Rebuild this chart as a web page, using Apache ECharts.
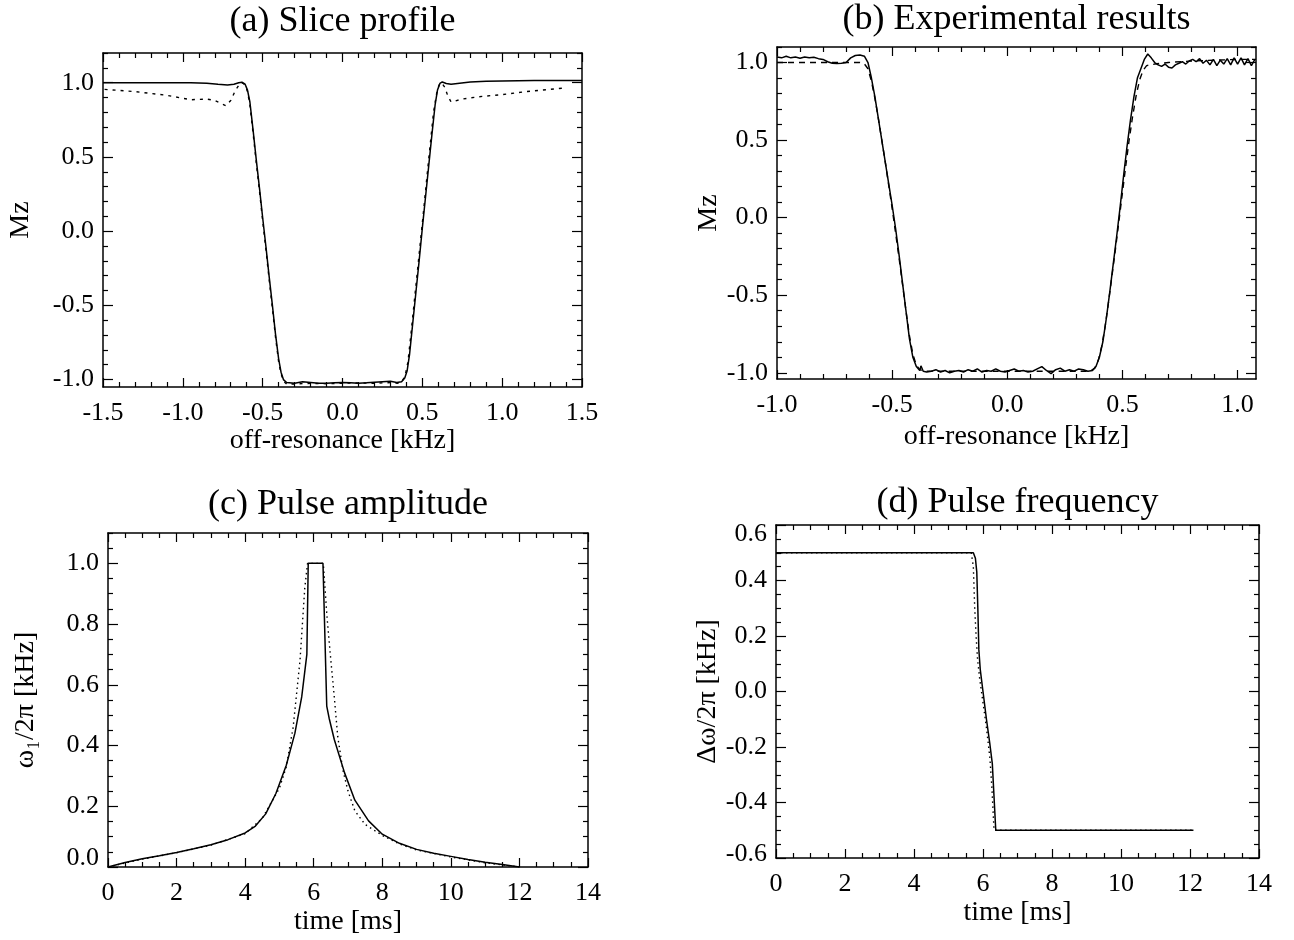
<!DOCTYPE html>
<html><head><meta charset="utf-8">
<script src="https://cdn.jsdelivr.net/npm/echarts@6/dist/echarts.min.js"></script>
<style>html,body{margin:0;padding:0;background:#fff}#c{width:1294px;height:940px}</style>
</head><body><div id="c"></div>
<script>
// ---------- (a) Slice profile ----------
const aXTicks = [-1.5, -1.0, -0.5, 0.0, 0.5, 1.0, 1.5];
const aYTicks = [-1.0, -0.5, 0.0, 0.5, 1.0];
const aSolidX = [-1.5,-1.3,-1.1,-0.95,-0.85,-0.78,-0.72,-0.68,-0.65,-0.63,-0.61,-0.595,-0.58,-0.56,-0.54,-0.52,-0.50,-0.48,-0.46,-0.44,-0.42,-0.40,-0.385,-0.37,-0.35,-0.3,-0.25,-0.2,-0.15,-0.1,-0.05,0,0.05,0.1,0.15,0.2,0.25,0.3,0.34,0.37,0.39,0.405,0.42,0.44,0.46,0.48,0.50,0.52,0.54,0.56,0.58,0.595,0.61,0.625,0.65,0.68,0.72,0.8,0.9,1.0,1.2,1.5];
const aSolidY = [1.0,1.0,1.0,1.0,0.997,0.99,0.985,0.99,1.0,1.003,0.99,0.95,0.87,0.68,0.48,0.29,0.09,-0.10,-0.30,-0.49,-0.69,-0.86,-0.95,-1.0,-1.02,-1.025,-1.015,-1.02,-1.025,-1.025,-1.022,-1.02,-1.022,-1.025,-1.022,-1.018,-1.015,-1.012,-1.02,-1.015,-0.99,-0.94,-0.83,-0.62,-0.41,-0.20,0.02,0.23,0.44,0.65,0.85,0.95,0.995,1.005,0.995,0.99,0.995,1.005,1.01,1.012,1.015,1.015];
const aDotX = [-1.49,-1.3,-1.1,-0.95,-0.85,-0.8,-0.76,-0.73,-0.7,-0.67,-0.645,-0.63,-0.61,-0.595,-0.58,-0.56,-0.54,-0.52,-0.50,-0.48,-0.46,-0.44,-0.42,-0.40,-0.385,-0.37,-0.35,-0.3,-0.2,-0.1,0,0.1,0.2,0.3,0.35,0.38,0.395,0.41,0.43,0.45,0.47,0.49,0.51,0.53,0.55,0.57,0.59,0.605,0.62,0.64,0.66,0.68,0.7,0.75,0.85,1.0,1.15,1.3,1.4];
const aDotY = [0.955,0.94,0.915,0.885,0.89,0.88,0.86,0.845,0.88,0.95,0.99,1.0,0.985,0.94,0.85,0.66,0.46,0.27,0.07,-0.12,-0.32,-0.51,-0.71,-0.88,-0.96,-1.01,-1.03,-1.03,-1.025,-1.028,-1.025,-1.022,-1.025,-1.02,-1.025,-1.0,-0.96,-0.88,-0.68,-0.47,-0.26,-0.05,0.16,0.38,0.59,0.8,0.93,0.985,1.0,0.97,0.91,0.87,0.875,0.89,0.905,0.92,0.94,0.955,0.965];

// ---------- (b) Experimental results ----------
const bXTicks = [-1.0, -0.5, 0.0, 0.5, 1.0];
const bYTicks = [-1.0, -0.5, 0.0, 0.5, 1.0];
const bSolidX = [-1.0,-0.98,-0.96,-0.94,-0.92,-0.90,-0.88,-0.86,-0.84,-0.82,-0.80,-0.78,-0.76,-0.74,-0.72,-0.70,-0.68,-0.66,-0.64,-0.62,-0.605,-0.59,-0.575,-0.56,-0.545,-0.53,-0.515,-0.50,-0.485,-0.47,-0.455,-0.44,-0.425,-0.41,-0.395,-0.38,-0.375,-0.365,-0.35,-0.33,-0.31,-0.29,-0.27,-0.25,-0.23,-0.21,-0.19,-0.17,-0.15,-0.13,-0.11,-0.09,-0.07,-0.05,-0.03,-0.01,0.01,0.03,0.05,0.07,0.09,0.11,0.13,0.15,0.17,0.19,0.21,0.23,0.25,0.27,0.29,0.31,0.33,0.35,0.37,0.385,0.40,0.415,0.43,0.445,0.46,0.475,0.49,0.505,0.52,0.535,0.55,0.565,0.58,0.595,0.61,0.625,0.64,0.655,0.67,0.685,0.70,0.715,0.73,0.745,0.76,0.775,0.79,0.805,0.82,0.835,0.85,0.865,0.88,0.895,0.91,0.925,0.94,0.955,0.97,0.985,1.0,1.015,1.03,1.045,1.06,1.075];
const bSolidY = [1.035,1.03,1.04,1.03,1.035,1.028,1.036,1.03,1.034,1.025,1.02,1.005,0.995,0.993,0.995,1.0,1.03,1.045,1.048,1.04,1.0,0.9,0.78,0.64,0.5,0.36,0.22,0.08,-0.07,-0.24,-0.42,-0.6,-0.78,-0.9,-0.96,-0.985,-0.955,-0.99,-0.995,-0.99,-0.98,-0.995,-0.985,-1.0,-0.99,-0.985,-0.995,-0.98,-0.99,-0.975,-0.995,-0.985,-0.99,-0.975,-0.99,-0.995,-0.985,-0.975,-0.99,-0.985,-0.995,-0.99,-0.975,-0.96,-0.985,-1.005,-0.98,-0.97,-0.99,-0.98,-0.99,-0.975,-0.98,-0.99,-0.985,-0.96,-0.9,-0.8,-0.65,-0.48,-0.3,-0.12,0.07,0.27,0.46,0.63,0.78,0.9,0.96,1.02,1.055,1.03,1.0,0.985,0.975,0.99,0.97,0.965,0.985,0.995,1.005,0.99,1.01,1.02,1.005,1.025,0.995,1.015,0.985,1.02,0.98,1.015,0.99,1.025,0.985,1.03,0.99,1.03,0.985,1.025,0.98,1.02];
const bDashX = [-1.0,-0.8,-0.68,-0.64,-0.62,-0.605,-0.59,-0.575,-0.56,-0.545,-0.53,-0.515,-0.5,-0.485,-0.47,-0.455,-0.44,-0.425,-0.41,-0.395,-0.38,-0.36,0.36,0.38,0.395,0.41,0.425,0.44,0.455,0.47,0.485,0.5,0.515,0.53,0.545,0.56,0.575,0.59,0.605,0.64,0.7,0.8,0.9,1.0,1.08];
const bDashY = [1.0,1.0,1.0,1.0,0.99,0.96,0.88,0.77,0.64,0.5,0.36,0.21,0.06,-0.1,-0.26,-0.43,-0.6,-0.76,-0.88,-0.95,-0.98,-0.99,-0.99,-0.97,-0.92,-0.83,-0.7,-0.54,-0.37,-0.2,-0.02,0.16,0.34,0.51,0.66,0.79,0.89,0.95,0.98,0.99,1.0,1.01,1.015,1.02,1.02];

// ---------- (c) Pulse amplitude ----------
const cXTicks = [0, 2, 4, 6, 8, 10, 12, 14];
const cYTicks = [0.0, 0.2, 0.4, 0.6, 0.8, 1.0];
const cSolidT = [0,0.5,1,1.5,2,2.5,3,3.5,4,4.3,4.6,4.9,5.2,5.45,5.65,5.8,5.84,6.27,6.38,6.45,6.6,6.9,7.2,7.6,8.0,8.5,9.0,9.5,10,10.5,11,11.5,12];
const cSolidV = [0,0.015,0.027,0.037,0.048,0.06,0.073,0.09,0.112,0.135,0.175,0.243,0.335,0.44,0.56,0.7,1.0,1.0,0.53,0.49,0.42,0.31,0.22,0.152,0.108,0.078,0.058,0.045,0.035,0.025,0.016,0.008,0.0];
const cDotT = [0,1,2,3,4,4.5,5,5.2,5.4,5.6,5.74,5.82,6.28,6.39,6.5,6.6,6.7,6.85,7.0,7.2,7.5,8.0,8.5,9,10,11,12];
const cDotV = [0,0.026,0.047,0.072,0.11,0.16,0.26,0.33,0.46,0.68,0.92,1.0,1.0,0.82,0.68,0.56,0.43,0.32,0.25,0.185,0.14,0.104,0.076,0.056,0.033,0.014,0.0];

// ---------- (d) Pulse frequency ----------
const dXTicks = [0, 2, 4, 6, 8, 10, 12, 14];
const dYTicks = [-0.6, -0.4, -0.2, 0.0, 0.2, 0.4, 0.6];
const dSolidT = [0,5.72,5.78,5.82,5.85,5.88,5.92,6.0,6.1,6.2,6.27,6.32,6.37,12.1];
const dSolidV = [0.5,0.5,0.48,0.43,0.3,0.15,0.08,0.0,-0.1,-0.19,-0.26,-0.38,-0.5,-0.5];
const dDotT = [0,5.66,5.72,5.76,5.8,5.84,5.9,6.0,6.1,6.2,6.26,6.32,12.1];
const dDotV = [0.5,0.5,0.45,0.3,0.2,0.12,0.05,-0.04,-0.13,-0.24,-0.35,-0.5,-0.5];

// ---------- layout / styling ----------
const FONT = "'Liberation Serif','Times New Roman','DejaVu Serif',serif";
const panels = [
  {title:'(a) Slice profile', titleY:22, grid:{left:103,top:53,width:479,height:334}, x:[-1.5,1.5], y:[-1.05,1.2],
   xMajor:aXTicks, yMajor:aYTicks, xStep:0.1, yStep:0.1, xDec:1, yDec:1,
   xName:'off-resonance [kHz]', yName:'Mz', xGap:40, yGap:68, yMinShift:0, yMaxShift:0,
   lines:[[aSolidX,aSolidY,'solid'],[aDotX,aDotY,[3,5]]]},
  {title:'(b) Experimental results', titleY:20, grid:{left:777,top:47,width:479,height:332}, x:[-1.0,1.08], y:[-1.04,1.1],
   xMajor:bXTicks, yMajor:bYTicks, xStep:0.1, yStep:0.1, xDec:1, yDec:1,
   xName:'off-resonance [kHz]', yName:'Mz', xGap:44, yGap:52, yMinShift:0, yMaxShift:0,
   lines:[[bSolidX,bSolidY,'solid'],[bDashX,bDashY,[6,5]]]},
  {title:'(c) Pulse amplitude', titleY:505, grid:{left:108,top:533,width:480,height:334}, x:[0,14], y:[0,1.1],
   xMajor:cXTicks, yMajor:cYTicks, xStep:0.5, yStep:0.05, xDec:0, yDec:1,
   xName:'time [ms]', yName:'ω\u2081/2π [kHz]', xGap:41, yGap:68, yMinShift:-9, yMaxShift:0,
   lines:[[cSolidT,cSolidV,'solid'],[cDotT,cDotV,[1.5,3.5]]]},
  {title:'(d) Pulse frequency', titleY:503, grid:{left:776,top:525,width:483,height:333}, x:[0,14], y:[-0.6,0.6],
   xMajor:dXTicks, yMajor:dYTicks, xStep:0.5, yStep:0.05, xDec:0, yDec:1,
   xName:'time [ms]', yName:'Δω/2π [kHz]', xGap:41, yGap:50, yMinShift:-4, yMaxShift:9,
   lines:[[dSolidT,dSolidV,'solid'],[dDotT,dDotV,[1.5,3.5]]]}
];

function minorList(min, max, step, major) {
  const out = [];
  const n0 = Math.ceil(min / step - 1e-9), n1 = Math.floor(max / step + 1e-9);
  for (let i = n0; i <= n1; i++) {
    const v = Math.round(i * step * 1e6) / 1e6;
    if (!major.some(m => Math.abs(m - v) < 1e-6)) out.push(v);
  }
  return out;
}

const LINE = {color:'#000', width:1.5};
const TICK = {color:'#000', width:1.2};
const LBL = {fontFamily:FONT, fontSize:26, color:'#000'};
function shiftStyle(s) { // s<0 moves the label up, s>0 moves it down
  return Object.assign({}, LBL, {padding: s < 0 ? [0, 0, -2 * s, 0] : [2 * s, 0, 0, 0]});
}
function makeAxes(gi, p, dim) {
  const isX = dim === 'x';
  const [mn, mx] = isX ? p.x : p.y;
  const major = isX ? p.xMajor : p.yMajor;
  const minor = minorList(mn, mx, isX ? p.xStep : p.yStep, major);
  const dec = isX ? p.xDec : p.yDec;
  const pos = isX ? ['bottom','top'] : ['left','right'];
  const majLen = isX ? 9 : 10, minLen = 5;
  const base = {gridIndex:gi, type:'value', min:mn, max:mx, splitLine:{show:false}, axisPointer:{show:false}};
  const lo = Math.min(...major), hi = Math.max(...major);
  const fmt = v => {
    const s = Number(v).toFixed(dec);
    if (!isX && Math.abs(v - lo) < 1e-9 && p.yMinShift) return '{lo|' + s + '}';
    if (!isX && Math.abs(v - hi) < 1e-9 && p.yMaxShift) return '{hi|' + s + '}';
    return s;
  };
  const axes = [];
  pos.forEach((ps, k) => {
    axes.push(Object.assign({}, base, {
      position: ps,
      axisLine:{show:true, onZero:false, lineStyle:LINE},
      axisTick:{show:true, inside:true, length:majLen, customValues:major, lineStyle:TICK},
      axisLabel: k === 0 ? Object.assign({show:true, customValues:major, formatter:fmt,
        margin: isX ? 13 : 9, showMinLabel:true, showMaxLabel:true,
        rich:{lo:shiftStyle(p.yMinShift || 0), hi:shiftStyle(p.yMaxShift || 0)}}, LBL) : {show:false},
      name: k === 0 ? (isX ? p.xName : p.yName) : '',
      nameLocation:'middle', nameGap: isX ? p.xGap : p.yGap,
      nameTextStyle:{fontFamily:FONT, fontSize:28, color:'#000'}
    }));
    axes.push(Object.assign({}, base, {
      position: ps,
      axisLine:{show:false, onZero:false},
      axisTick:{show:true, inside:true, length:minLen, customValues:minor, lineStyle:TICK},
      axisLabel:{show:false}
    }));
  });
  return axes;
}

const grids = [], xAxes = [], yAxes = [], series = [], graphics = [];
panels.forEach((p, gi) => {
  grids.push(Object.assign({containLabel:false}, p.grid));
  xAxes.push(...makeAxes(gi, p, 'x'));
  yAxes.push(...makeAxes(gi, p, 'y'));
  p.lines.forEach(([xs, ys, type], li) => {
    series.push({
      type:'line', xAxisIndex:gi*4, yAxisIndex:gi*4,
      data: xs.map((x, i) => [x, ys[i]]),
      showSymbol:false, symbol:'none', silent:true, clip:true,
      lineStyle:{color:'#000', width: li === 0 ? 1.5 : 1.4, type:type},
      z: li === 0 ? 3 : 2
    });
  });
  graphics.push({type:'text', x:p.grid.left + p.grid.width / 2, y:p.titleY,
    style:{text:p.title, fill:'#000', font:'36px ' + FONT, textAlign:'center', textVerticalAlign:'middle'}});
});

const chart = echarts.init(document.getElementById('c'), null, {renderer:'canvas'});
chart.setOption({
  animation:false,
  backgroundColor:'#fff',
  grid:grids, xAxis:xAxes, yAxis:yAxes, series:series,
  graphic:graphics
});
</script>
</body></html>
